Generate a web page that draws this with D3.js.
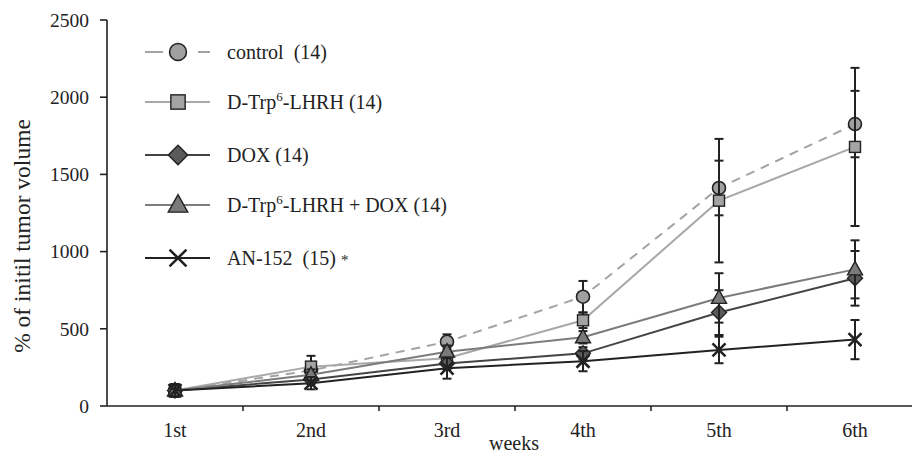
<!DOCTYPE html>
<html>
<head>
<meta charset="utf-8">
<script src="https://cdn.jsdelivr.net/npm/d3@7"></script>
<style>
  body { margin: 0; background: #fff; }
  text { font-family: "Liberation Serif", "DejaVu Serif", serif; fill: #222; white-space: pre; }
</style>
</head>
<body>
<svg id="chart" width="912" height="453"></svg>
<script>
// DATA
const weeks = ["1st", "2nd", "3rd", "4th", "5th", "6th"];
const yTicks = [0, 500, 1000, 1500, 2000, 2500];

const controlVals = [100, 230, 416, 708, 1412, 1826];
const controlErr = [40, 40, 48, 102, 177, 215];

const trpVals = [100, 255, 310, 555, 1330, 1678];
const trpErr = [40, 70, 40, 50, 400, 512];

const doxVals = [100, 172, 276, 341, 605, 827];
const doxErr = [40, 30, 40, 40, 145, 177];

const comboVals = [100, 202, 352, 445, 700, 885];
const comboErr = [40, 35, 40, 40, 160, 188];

const anVals = [100, 148, 245, 290, 363, 430];
const anErr = [40, 40, 68, 65, 86, 127];

const series = [
  { name: "control", label: ["control  (14)"], vals: controlVals, err: controlErr,
    line: "#a3a3a3", dash: "9,7", fill: "#a0a0a0", shape: "circle" },
  { name: "trp", label: ["D-Trp", "6", "-LHRH (14)"], vals: trpVals, err: trpErr,
    line: "#a8a8a8", dash: null, fill: "#a4a4a4", shape: "square" },
  { name: "dox", label: ["DOX (14)"], vals: doxVals, err: doxErr,
    line: "#444", dash: null, fill: "#5a5a5a", shape: "diamond" },
  { name: "combo", label: ["D-Trp", "6", "-LHRH + DOX (14)"], vals: comboVals, err: comboErr,
    line: "#7c7c7c", dash: null, fill: "#7a7a7a", shape: "triangle" },
  { name: "an", label: ["AN-152  (15) ", "*"], vals: anVals, err: anErr,
    line: "#222", dash: null, fill: "#222", shape: "cross" }
];

const svg = d3.select("#chart");

// SCALES
const x = d3.scaleBand().domain(weeks).range([107, 923]);
const y = d3.scaleLinear().domain([0, 2500]).range([406, 20]);
const cx = w => x(w) + x.bandwidth() / 2;

// AXES
svg.append("line")
  .attr("x1", 107).attr("x2", 107).attr("y1", y(2500)).attr("y2", y(0))
  .attr("stroke", "#222").attr("stroke-width", 1.6);
svg.append("line")
  .attr("x1", 107).attr("x2", 912).attr("y1", y(0)).attr("y2", y(0))
  .attr("stroke", "#222").attr("stroke-width", 1.6);

const yAxis = svg.append("g").selectAll("g").data(yTicks).join("g");
yAxis.append("line")
  .attr("x1", 100).attr("x2", 107).attr("y1", d => y(d)).attr("y2", d => y(d))
  .attr("stroke", "#222").attr("stroke-width", 1.6);
yAxis.append("text")
  .attr("x", 89).attr("y", d => y(d)).attr("dy", "0.35em")
  .attr("text-anchor", "end").attr("font-size", 19.5)
  .text(d => d);

// x ticks between categories
svg.append("g").selectAll("line").data(weeks.slice(1)).join("line")
  .attr("x1", d => x(d)).attr("x2", d => x(d))
  .attr("y1", y(0)).attr("y2", y(0) + 5)
  .attr("stroke", "#222").attr("stroke-width", 1.6);
svg.append("g").selectAll("text").data(weeks).join("text")
  .attr("x", cx).attr("y", 437)
  .attr("text-anchor", "middle").attr("font-size", 20)
  .text(d => d);

svg.append("text")
  .attr("x", 514).attr("y", 450)
  .attr("text-anchor", "middle").attr("font-size", 20)
  .text("weeks");

svg.append("text")
  .attr("transform", "translate(22,236) rotate(-90)")
  .attr("dy", "0.35em")
  .attr("text-anchor", "middle").attr("font-size", 23.5)
  .text("% of initil tumor volume");

// MARKERS
const drawMarker = (g, s, px, py, k) => {
  if (s.shape === "circle") {
    g.append("circle").attr("cx", px).attr("cy", py).attr("r", 6.5 * k)
      .attr("fill", s.fill).attr("stroke", "#222").attr("stroke-width", 1.6);
  } else if (s.shape === "square") {
    const h = 5.5 * k;
    g.append("rect").attr("x", px - h).attr("y", py - h)
      .attr("width", 2 * h).attr("height", 2 * h)
      .attr("fill", s.fill).attr("stroke", "#222").attr("stroke-width", 1.4);
  } else if (s.shape === "diamond") {
    const h = 7.5 * k;
    g.append("path")
      .attr("d", `M${px},${py - h}L${px + h},${py}L${px},${py + h}L${px - h},${py}Z`)
      .attr("fill", s.fill).attr("stroke", "#222").attr("stroke-width", 1.4);
  } else if (s.shape === "triangle") {
    g.append("path")
      .attr("d", `M${px},${py - 8 * k}L${px + 7.5 * k},${py + 5.5 * k}L${px - 7.5 * k},${py + 5.5 * k}Z`)
      .attr("fill", s.fill).attr("stroke", "#222").attr("stroke-width", 1.4);
  } else {
    const h = 6.5 * k;
    g.append("path")
      .attr("d", `M${px - h},${py - h}L${px + h},${py + h}M${px + h},${py - h}L${px - h},${py + h}`)
      .attr("stroke", "#222").attr("stroke-width", 2.6).attr("fill", "none");
  }
};

// SERIES
const line = d3.line().x(d => cx(d.w)).y(d => y(d.v));

series.forEach(s => {
  const pts = weeks.map((w, i) => ({ w: w, v: s.vals[i], e: s.err[i] }));
  const g = svg.append("g").attr("class", "series-" + s.name);

  // error bars
  const eb = g.append("g").selectAll("g").data(pts).join("g");
  eb.append("line")
    .attr("x1", d => cx(d.w)).attr("x2", d => cx(d.w))
    .attr("y1", d => y(d.v + d.e)).attr("y2", d => y(d.v - d.e))
    .attr("stroke", "#222").attr("stroke-width", 2);
  [1, -1].forEach(sign => {
    eb.append("line")
      .attr("x1", d => cx(d.w) - 4.5).attr("x2", d => cx(d.w) + 4.5)
      .attr("y1", d => y(d.v + sign * d.e)).attr("y2", d => y(d.v + sign * d.e))
      .attr("stroke", "#222").attr("stroke-width", 2);
  });

  g.append("path").datum(pts)
    .attr("d", line)
    .attr("fill", "none").attr("stroke", s.line).attr("stroke-width", 2)
    .attr("stroke-dasharray", s.dash);

  pts.forEach(d => drawMarker(g, s, cx(d.w), y(d.v), 1));
});

// LEGEND
const legendY = [52, 102, 155, 205, 258];
series.forEach((s, i) => {
  const g = svg.append("g").attr("class", "legend");
  const ly = legendY[i];
  g.append("line")
    .attr("x1", 145).attr("x2", 210).attr("y1", ly).attr("y2", ly)
    .attr("stroke", s.line).attr("stroke-width", 2.2)
    .attr("stroke-dasharray", s.dash ? "18,35,12" : null);
  drawMarker(g, s, 178, ly, 1.3);
  const t = g.append("text").attr("x", 227).attr("y", ly).attr("dy", "0.35em")
    .attr("font-size", 20);
  if (s.label.length === 3) {
    t.append("tspan").text(s.label[0]);
    t.append("tspan").attr("font-size", 13).attr("dy", "-0.6em").text(s.label[1]);
    t.append("tspan").attr("dy", "0.39em").text(s.label[2]);
  } else if (s.label.length === 2) {
    t.append("tspan").text(s.label[0]);
    t.append("tspan").attr("font-size", 15).text(s.label[1]);
  } else {
    t.text(s.label[0]);
  }
});
</script>
</body>
</html>
